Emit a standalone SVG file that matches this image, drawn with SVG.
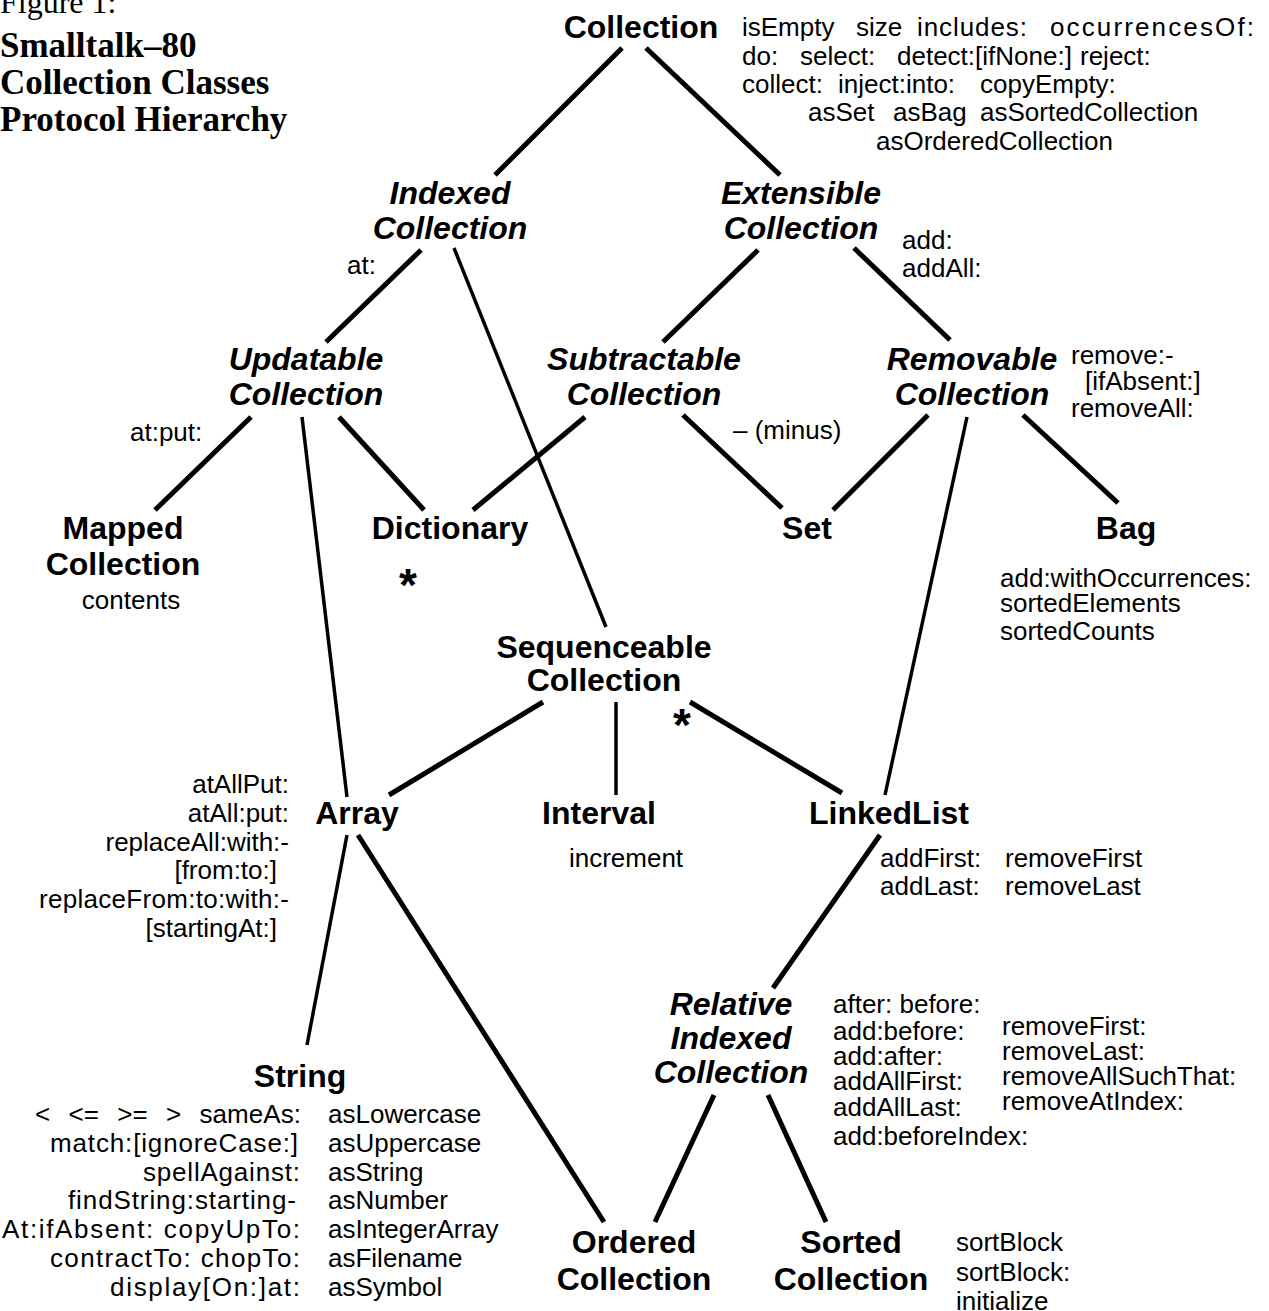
<svg xmlns="http://www.w3.org/2000/svg" width="1269" height="1311" viewBox="0 0 1269 1311">
  <style>
    .title { font-family: "Liberation Serif", "Times New Roman", serif; fill: #000; }
    .cls { font-family: "Liberation Sans", Arial, sans-serif; font-weight: bold; font-size: 32px; fill: #000; text-anchor: middle; }
    .abs { font-style: italic; }
    .msg { font-family: "Liberation Sans", Arial, sans-serif; font-size: 26px; fill: #000; }
    .end { text-anchor: end; }
    .mid { text-anchor: middle; }
    .star { font-family: "Liberation Sans", Arial, sans-serif; font-weight: bold; font-size: 46px; text-anchor: middle; }
    .edge { stroke: #000; stroke-width: 5; stroke-linecap: butt; fill: none; }
    .thin { stroke-width: 3.5; }
  </style>
  <rect width="1269" height="1311" fill="#fff"/>

  <!-- heading -->
  <g id="heading">
    <text class="title" x="0" y="13" font-size="32">Figure 1:</text>
    <text class="title" x="0" y="57" font-size="35" font-weight="bold">Smalltalk–80</text>
    <text class="title" x="0" y="94" font-size="35" font-weight="bold">Collection Classes</text>
    <text class="title" x="0" y="131" font-size="35" font-weight="bold">Protocol Hierarchy</text>
  </g>

  <!-- inheritance links -->
  <g id="connectors">
    <line class="edge" x1="622" y1="48" x2="495" y2="175"/>
    <line class="edge" x1="646" y1="48" x2="780" y2="175"/>
    <line class="edge" x1="421" y1="250" x2="326" y2="342"/>
    <line class="edge thin" x1="454" y1="248" x2="606" y2="627"/>
    <line class="edge" x1="758" y1="250" x2="663" y2="342"/>
    <line class="edge" x1="854" y1="248" x2="950" y2="340"/>
    <line class="edge" x1="251" y1="417" x2="155" y2="510"/>
    <line class="edge thin" x1="302" y1="417" x2="347" y2="797"/>
    <line class="edge" x1="339" y1="417" x2="424" y2="510"/>
    <line class="edge" x1="585" y1="417" x2="473" y2="510"/>
    <line class="edge" x1="683" y1="415" x2="782" y2="508"/>
    <line class="edge" x1="928" y1="415" x2="833" y2="510"/>
    <line class="edge" x1="1023" y1="415" x2="1118" y2="503"/>
    <line class="edge thin" x1="967" y1="417" x2="885" y2="795"/>
    <line class="edge" x1="543" y1="702" x2="389" y2="795"/>
    <line class="edge thin" x1="616" y1="702" x2="616" y2="795"/>
    <line class="edge" x1="690" y1="702" x2="842" y2="793"/>
    <line class="edge thin" x1="347" y1="835" x2="307" y2="1045"/>
    <line class="edge" x1="358" y1="835" x2="604" y2="1222"/>
    <line class="edge" x1="880" y1="835" x2="773" y2="988"/>
    <line class="edge" x1="714" y1="1095" x2="655" y2="1222"/>
    <line class="edge" x1="768" y1="1095" x2="826" y2="1222"/>
  </g>

  <g id="collection">
    <text class="cls" x="641" y="38">Collection</text>
    <text class="msg" x="742" y="36">isEmpty</text>
    <text class="msg" x="856" y="36">size</text>
    <text class="msg" x="917" y="36" textLength="110" lengthAdjust="spacing">includes:</text>
    <text class="msg" x="1050" y="36" textLength="204" lengthAdjust="spacing">occurrencesOf:</text>
    <text class="msg" y="65"><tspan x="742">do:</tspan><tspan x="800">select:</tspan><tspan x="897">detect:[ifNone:]</tspan><tspan x="1080">reject:</tspan></text>
    <text class="msg" y="93"><tspan x="742">collect:</tspan><tspan x="838">inject:into:</tspan><tspan x="980">copyEmpty:</tspan></text>
    <text class="msg" y="121"><tspan x="808">asSet</tspan><tspan x="893">asBag</tspan><tspan x="980">asSortedCollection</tspan></text>
    <text class="msg" x="876" y="150">asOrderedCollection</text>
  </g>

  <g id="indexed-collection">
    <text class="cls abs" x="450" y="204">Indexed</text>
    <text class="cls abs" x="450" y="239">Collection</text>
    <text class="msg" x="347" y="274">at:</text>
  </g>

  <g id="extensible-collection">
    <text class="cls abs" x="801" y="204">Extensible</text>
    <text class="cls abs" x="801" y="239">Collection</text>
    <text class="msg" x="902" y="249">add:</text>
    <text class="msg" x="902" y="277">addAll:</text>
  </g>

  <g id="updatable-collection">
    <text class="cls abs" x="306" y="370">Updatable</text>
    <text class="cls abs" x="306" y="405">Collection</text>
    <text class="msg" x="130" y="441">at:put:</text>
  </g>

  <g id="subtractable-collection">
    <text class="cls abs" x="644" y="370">Subtractable</text>
    <text class="cls abs" x="644" y="405">Collection</text>
    <text class="msg" x="733" y="439">– (minus)</text>
  </g>

  <g id="removable-collection">
    <text class="cls abs" x="972" y="370">Removable</text>
    <text class="cls abs" x="972" y="405">Collection</text>
    <text class="msg" x="1071" y="364">remove:-</text>
    <text class="msg" x="1085" y="390">[ifAbsent:]</text>
    <text class="msg" x="1071" y="417">removeAll:</text>
  </g>

  <g id="mapped-collection">
    <text class="cls" x="123" y="539">Mapped</text>
    <text class="cls" x="123" y="575">Collection</text>
    <text class="msg mid" x="131" y="609">contents</text>
  </g>

  <g id="dictionary">
    <text class="cls" x="450" y="539">Dictionary</text>
    <text class="star" x="408" y="601">*</text>
  </g>

  <g id="set">
    <text class="cls" x="807" y="539">Set</text>
  </g>

  <g id="bag">
    <text class="cls" x="1126" y="539">Bag</text>
    <text class="msg" x="1000" y="587">add:withOccurrences:</text>
    <text class="msg" x="1000" y="612">sortedElements</text>
    <text class="msg" x="1000" y="640">sortedCounts</text>
  </g>

  <g id="sequenceable-collection">
    <text class="cls" x="604" y="658">Sequenceable</text>
    <text class="cls" x="604" y="691">Collection</text>
    <text class="star" x="682" y="741">*</text>
  </g>

  <g id="array">
    <text class="cls" x="357" y="824">Array</text>
    <text class="msg end" x="289" y="793">atAllPut:</text>
    <text class="msg end" x="289" y="822">atAll:put:</text>
    <text class="msg end" x="289" y="851">replaceAll:with:-</text>
    <text class="msg end" x="277" y="879">[from:to:]</text>
    <text class="msg end" x="289" y="908" textLength="250" lengthAdjust="spacing">replaceFrom:to:with:-</text>
    <text class="msg end" x="277" y="937">[startingAt:]</text>
  </g>

  <g id="interval">
    <text class="cls" x="599" y="824">Interval</text>
    <text class="msg mid" x="626" y="867">increment</text>
  </g>

  <g id="linked-list">
    <text class="cls" x="889" y="824">LinkedList</text>
    <text class="msg" y="867"><tspan x="880">addFirst:</tspan><tspan x="1005">removeFirst</tspan></text>
    <text class="msg" y="895"><tspan x="880">addLast:</tspan><tspan x="1005">removeLast</tspan></text>
  </g>

  <g id="string">
    <text class="cls" x="300" y="1087">String</text>
    <text class="msg end" x="301" y="1123" word-spacing="11" textLength="266" lengthAdjust="spacing">&lt; &lt;= &gt;= &gt; sameAs:</text>
    <text class="msg end" x="298" y="1152" textLength="248" lengthAdjust="spacing">match:[ignoreCase:]</text>
    <text class="msg end" x="300" y="1181" textLength="157" lengthAdjust="spacing">spellAgainst:</text>
    <text class="msg end" x="296" y="1209" textLength="228" lengthAdjust="spacing">findString:starting-</text>
    <text class="msg end" x="300" y="1238" textLength="298" lengthAdjust="spacing">At:ifAbsent: copyUpTo:</text>
    <text class="msg end" x="300" y="1267" textLength="250" lengthAdjust="spacing">contractTo: chopTo:</text>
    <text class="msg end" x="300" y="1296" textLength="190" lengthAdjust="spacing">display[On:]at:</text>
    <text class="msg" x="328" y="1123">asLowercase</text>
    <text class="msg" x="328" y="1152">asUppercase</text>
    <text class="msg" x="328" y="1181">asString</text>
    <text class="msg" x="328" y="1209">asNumber</text>
    <text class="msg" x="328" y="1238">asIntegerArray</text>
    <text class="msg" x="328" y="1267">asFilename</text>
    <text class="msg" x="328" y="1296">asSymbol</text>
  </g>

  <g id="relative-indexed-collection">
    <text class="cls abs" x="731" y="1015">Relative</text>
    <text class="cls abs" x="731" y="1049">Indexed</text>
    <text class="cls abs" x="731" y="1083">Collection</text>
    <text class="msg" x="833" y="1013">after:  before:</text>
    <text class="msg" x="833" y="1040">add:before:</text>
    <text class="msg" x="833" y="1065">add:after:</text>
    <text class="msg" x="833" y="1090">addAllFirst:</text>
    <text class="msg" x="833" y="1116">addAllLast:</text>
    <text class="msg" x="833" y="1145">add:beforeIndex:</text>
    <text class="msg" x="1002" y="1035">removeFirst:</text>
    <text class="msg" x="1002" y="1060">removeLast:</text>
    <text class="msg" x="1002" y="1085">removeAllSuchThat:</text>
    <text class="msg" x="1002" y="1110">removeAtIndex:</text>
  </g>

  <g id="ordered-collection">
    <text class="cls" x="634" y="1253">Ordered</text>
    <text class="cls" x="634" y="1290">Collection</text>
  </g>

  <g id="sorted-collection">
    <text class="cls" x="851" y="1253">Sorted</text>
    <text class="cls" x="851" y="1290">Collection</text>
    <text class="msg" x="956" y="1251">sortBlock</text>
    <text class="msg" x="956" y="1281">sortBlock:</text>
    <text class="msg" x="956" y="1310">initialize</text>
  </g>
</svg>
